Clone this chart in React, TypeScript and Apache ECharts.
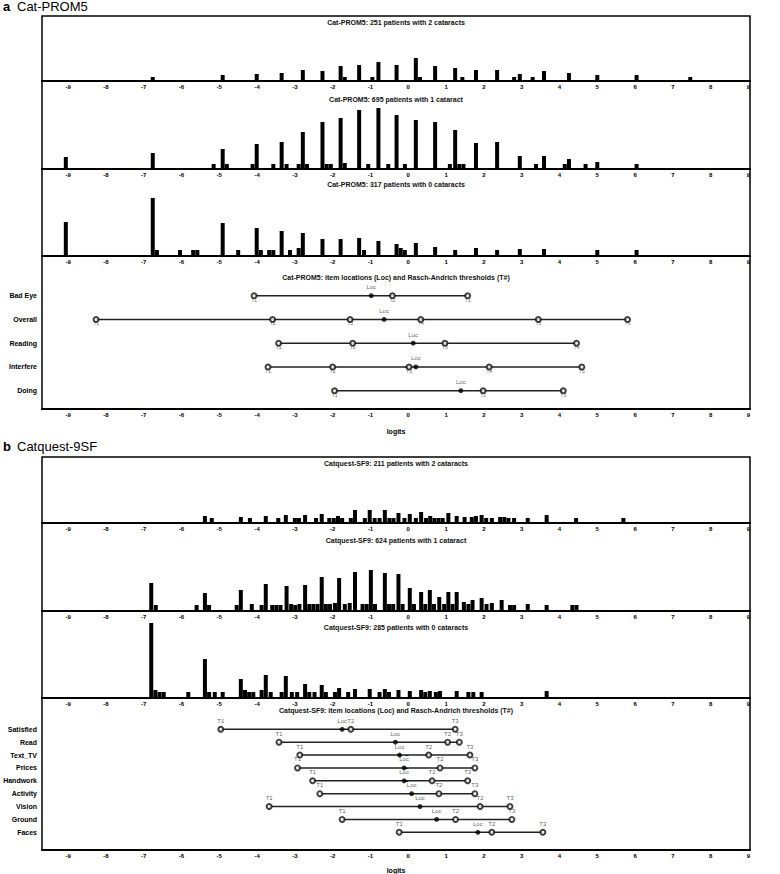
import React, { useEffect, useRef } from 'react';
import * as echarts from 'echarts';

// ---------- data ----------
const xTicks = [-9, -8, -7, -6, -5, -4, -3, -2, -1, 0, 1, 2, 3, 4, 5, 6, 7, 8, 9];

// Cat-PROM5 person distributions [logit, count]
const promTwo = [[-6.76,4],[-4.91,6],[-4.01,7],[-3.35,8],[-2.79,11],[-2.27,10],[-1.79,15],[-1.68,4],[-1.30,16],[-0.95,4],[-0.79,19],[-0.31,16],[0.20,23],[0.31,4],[0.71,15],[1.24,13],[1.43,4],[1.79,11],[2.35,11],[2.80,4],[2.95,7],[3.29,4],[3.59,10],[4.25,8],[5.00,6],[6.04,6],[7.46,4]];
const promOne = [[-9.06,12],[-6.76,16],[-5.15,5],[-4.91,20],[-4.80,5],[-4.12,5],[-4.01,25],[-3.57,5],[-3.35,27],[-3.22,5],[-2.90,5],[-2.79,37],[-2.68,5],[-2.27,47],[-2.16,5],[-2.05,5],[-1.79,51],[-1.68,6],[-1.30,59],[-1.06,5],[-0.79,61],[-0.53,5],[-0.31,54],[-0.09,5],[0.20,49],[0.71,47],[1.10,5],[1.24,39],[1.35,5],[1.46,5],[1.79,26],[2.35,27],[2.95,13],[3.38,5],[3.59,13],[4.14,5],[4.25,10],[4.69,5],[5.00,7],[6.04,5]];
const promZero = [[-9.06,34],[-6.76,58],[-6.65,6],[-6.04,6],[-5.69,6],[-5.58,6],[-4.91,33],[-4.50,6],[-4.01,28],[-3.90,6],[-3.68,6],[-3.57,6],[-3.35,25],[-3.13,6],[-2.90,8],[-2.79,23],[-2.27,17],[-1.79,17],[-1.30,18],[-1.17,6],[-0.79,15],[-0.31,12],[-0.20,8],[-0.09,6],[0.20,13],[0.71,9],[1.24,6],[1.79,8],[2.35,6],[2.95,7],[3.59,7],[5.00,6],[6.04,6]];

// Catquest-SF9 person distributions [logit, count]
const sf9Two = [[-5.38,7],[-5.20,5],[-4.43,6],[-4.19,5],[-3.77,7],[-3.44,5],[-3.24,8],[-3.00,5],[-2.89,5],[-2.73,8],[-2.44,5],[-2.29,9],[-2.09,5],[-1.97,5],[-1.86,7],[-1.75,5],[-1.52,5],[-1.41,13],[-1.15,5],[-1.02,13],[-0.89,5],[-0.76,5],[-0.62,13],[-0.50,5],[-0.39,5],[-0.26,10],[-0.10,5],[0.04,9],[0.20,5],[0.34,11],[0.47,5],[0.58,7],[0.69,5],[0.80,5],[0.91,5],[1.06,10],[1.28,7],[1.49,6],[1.68,6],[1.79,7],[1.94,8],[2.06,5],[2.21,5],[2.43,6],[2.54,6],[2.65,5],[2.80,5],[3.16,5],[3.66,8],[4.44,5],[5.69,5]];
const sf9One = [[-6.80,28],[-6.68,6],[-5.60,6],[-5.38,18],[-5.27,6],[-4.54,6],[-4.43,21],[-4.14,7],[-3.88,6],[-3.77,27],[-3.60,6],[-3.49,6],[-3.38,6],[-3.22,25],[-3.10,7],[-2.99,6],[-2.88,7],[-2.73,26],[-2.62,7],[-2.51,7],[-2.40,7],[-2.29,34],[-2.18,7],[-2.07,7],[-1.94,8],[-1.83,33],[-1.68,7],[-1.55,8],[-1.41,39],[-1.21,7],[-1.10,7],[-0.99,41],[-0.88,7],[-0.62,38],[-0.51,7],[-0.40,7],[-0.26,37],[-0.15,7],[0.04,23],[0.15,7],[0.34,19],[0.45,7],[0.57,21],[0.68,7],[0.82,14],[0.95,7],[1.06,19],[1.17,7],[1.28,19],[1.47,9],[1.59,7],[1.70,11],[1.94,13],[2.07,7],[2.21,8],[2.47,11],[2.69,6],[2.80,6],[3.16,7],[3.66,6],[4.34,6],[4.45,6]];
const sf9Zero = [[-6.80,75],[-6.69,8],[-6.58,6],[-6.47,6],[-5.82,6],[-5.38,39],[-5.27,6],[-5.12,6],[-4.91,6],[-4.43,19],[-4.32,8],[-4.21,6],[-4.10,6],[-3.88,8],[-3.77,23],[-3.64,6],[-3.35,6],[-3.24,22],[-3.08,6],[-2.94,6],[-2.73,14],[-2.62,6],[-2.48,6],[-2.29,13],[-2.18,6],[-1.94,6],[-1.83,10],[-1.59,6],[-1.41,9],[-1.02,9],[-0.76,6],[-0.62,9],[-0.51,6],[-0.26,8],[0.04,7],[0.34,8],[0.45,6],[0.57,7],[0.73,6],[0.84,7],[1.28,7],[1.59,6],[1.72,6],[1.94,6],[3.66,7]];

// Item maps
const promItems = ['Bad Eye', 'Overall', 'Reading', 'Interfere', 'Doing'];
const promLoc = [-0.98, -0.64, 0.13, 0.20, 1.39];
const promThresholds = [
  [-4.08, -0.42, 1.57],
  [-8.26, -3.59, -1.54, 0.33, 3.44, 5.80],
  [-3.43, -1.47, 0.97, 4.45],
  [-3.71, -2.00, 0.02, 2.14, 4.59],
  [-1.95, 1.98, 4.10],
];
const sf9Items = ['Satisfied', 'Read', 'Text_TV', 'Prices', 'Handwork', 'Activity', 'Vision', 'Ground', 'Faces'];
const sf9Loc = [-1.75, -0.34, -0.23, -0.11, -0.11, 0.09, 0.31, 0.75, 1.84];
const sf9Thresholds = [
  [-4.96, -1.52, 1.24],
  [-3.42, 1.04, 1.35],
  [-2.87, 0.54, 1.63],
  [-2.93, 0.84, 1.76],
  [-2.53, 0.63, 1.57],
  [-2.34, 0.81, 1.76],
  [-3.68, 1.90, 2.69],
  [-1.75, 1.25, 2.74],
  [-0.24, 2.21, 3.56],
];

const histTitles = [
  'Cat-PROM5: 251 patients with 2 cataracts',
  'Cat-PROM5: 695 patients with 1 cataract',
  'Cat-PROM5: 317 patients with 0 cataracts',
  'Cat-PROM5: item locations (Loc) and Rasch-Andrich thresholds (T#)',
  'Catquest-SF9: 211 patients with 2 cataracts',
  'Catquest-SF9: 624 patients with 1 cataract',
  'Catquest-SF9: 285 patients with 0 cataracts',
  'Catquest-SF9: item locations (Loc) and Rasch-Andrich thresholds (T#)',
];

// ---------- layout ----------
const FONT = 'Liberation Sans, Arial, sans-serif';
const X_MIN = -9.69;
const X_MAX = 9.04;
const grids = [
  { top: 16, height: 65 },
  { top: 81, height: 88 },
  { top: 169, height: 87 },
  { top: 256, height: 153 },
  { top: 457, height: 66 },
  { top: 523, height: 88 },
  { top: 611, height: 87 },
  { top: 698, height: 152 },
];
const titleY = [23, 100, 185, 277.5, 464, 540.5, 628, 710.5];

function buildOption() {
  const histData = [promTwo, promOne, promZero, null, sf9Two, sf9One, sf9Zero, null];

  const grid = grids.map((g) => ({
    left: 42,
    right: 30,
    top: g.top,
    height: g.height,
    show: true,
    borderColor: '#000',
    borderWidth: 1.5,
    backgroundColor: 'transparent',
    containLabel: false,
    outerBoundsMode: 'none',
  }));

  const xAxis = grids.map((g, i) => ({
    type: 'value',
    gridIndex: i,
    min: X_MIN,
    max: X_MAX,
    axisLine: { show: true, onZero: false, lineStyle: { color: '#000', width: 2 } },
    axisTick: { show: false },
    splitLine: { show: false },
    axisLabel: {
      customValues: xTicks,
      fontSize: 6,
      fontWeight: 'bold',
      color: '#000',
      margin: 3,
      fontFamily: FONT,
      formatter: (v: number) => String(v),
    },
    name: i === 3 || i === 7 ? 'logits' : '',
    nameLocation: 'middle',
    nameGap: i === 3 ? 19 : 17,
    nameTextStyle: { fontSize: 7, fontWeight: 'bold', color: '#000', fontFamily: FONT },
  }));

  const itemYAxis = (idx: number, names: string[], min: number, max: number) => ({
    type: 'value',
    gridIndex: idx,
    min,
    max,
    inverse: true,
    axisLine: { show: false },
    splitLine: { show: false },
    axisTick: {
      show: true,
      customValues: names.map((_, k) => k),
      length: 3,
      lineStyle: { color: '#000', width: 1 },
    },
    axisLabel: {
      customValues: names.map((_, k) => k),
      formatter: (v: number) => names[Math.round(v)] || '',
      fontSize: 7,
      fontWeight: 'bold',
      color: '#000',
      margin: 5,
      fontFamily: FONT,
    },
  });

  const yAxis = grids.map((g, i) => {
    if (i === 3) return itemYAxis(3, promItems, -1.672, 4.771);
    if (i === 7) return itemYAxis(7, sf9Items, -2.431, 9.375);
    return { type: 'value', gridIndex: i, min: 0, max: g.height, show: false };
  });

  const series: any[] = [];
  histData.forEach((d, i) => {
    if (!d) return;
    series.push({
      type: 'bar',
      xAxisIndex: i,
      yAxisIndex: i,
      data: d,
      barWidth: 4,
      itemStyle: { color: '#000' },
      silent: true,
    });
  });

  const itemMap = (
    idx: number,
    thresholds: number[][],
    locs: number[],
    tLabelPos: string,
    tDist: number,
    tFont: number,
    symSize: number,
    borderW: number
  ) => {
    thresholds.forEach((ts, k) => {
      const all = ts.concat([locs[k]]);
      series.push({
        type: 'line',
        xAxisIndex: idx,
        yAxisIndex: idx,
        data: [[Math.min(...all), k], [Math.max(...all), k]],
        symbol: 'none',
        lineStyle: { color: '#222', width: 1.5 },
        silent: true,
        z: 2,
      });
    });
    series.push({
      type: 'scatter',
      xAxisIndex: idx,
      yAxisIndex: idx,
      data: thresholds.flatMap((ts, k) => ts.map((t, j) => [t, k, 'T' + (j + 1)])),
      symbol: 'emptyCircle',
      symbolSize: symSize,
      itemStyle: { color: '#111', borderWidth: borderW },
      label: {
        show: true,
        position: tLabelPos,
        distance: tDist,
        fontSize: tFont,
        color: '#333',
        fontFamily: FONT,
        formatter: (p: any) => p.data[2],
      },
      silent: true,
      z: 3,
    });
    series.push({
      type: 'scatter',
      xAxisIndex: idx,
      yAxisIndex: idx,
      data: locs.map((l, k) => [l, k]),
      symbol: 'circle',
      symbolSize: 5,
      itemStyle: { color: '#000' },
      label: {
        show: true,
        position: 'top',
        distance: 3,
        fontSize: 6,
        color: '#333',
        fontFamily: FONT,
        formatter: () => 'Loc',
      },
      silent: true,
      z: 4,
    });
  };
  itemMap(3, promThresholds, promLoc, 'bottom', -2, 5, 5, 1);
  itemMap(7, sf9Thresholds, sf9Loc, 'top', 2, 6, 5, 1.5);

  const title: any[] = [
    { text: 'a', left: 3, top: 0, padding: 0, textStyle: { fontSize: 13, fontWeight: 'bold', color: '#000', fontFamily: FONT } },
    { text: 'Cat-PROM5', left: 17, top: 0, padding: 0, textStyle: { fontSize: 13, fontWeight: 'normal', color: '#000', fontFamily: FONT } },
    { text: 'b', left: 3, top: 440, padding: 0, textStyle: { fontSize: 13, fontWeight: 'bold', color: '#000', fontFamily: FONT } },
    { text: 'Catquest-9SF', left: 17, top: 440, padding: 0, textStyle: { fontSize: 13, fontWeight: 'normal', color: '#000', fontFamily: FONT } },
  ];
  histTitles.forEach((t, i) => {
    title.push({
      text: t,
      left: 396,
      top: titleY[i] - 4,
      padding: 0,
      textAlign: 'center',
      textStyle: { fontSize: 7, fontWeight: 'bold', color: '#111', fontFamily: FONT },
    });
  });

  return {
    animation: false,
    backgroundColor: '#fff',
    textStyle: { fontFamily: FONT },
    title,
    grid,
    xAxis,
    yAxis,
    series,
  };
}

export default function App() {
  const ref = useRef<HTMLDivElement>(null);
  useEffect(() => {
    const chart = echarts.init(ref.current as HTMLDivElement, null, { renderer: 'svg' });
    chart.setOption(buildOption() as any);
    return () => chart.dispose();
  }, []);
  return (
    <div
      ref={ref}
      style={{ position: 'absolute', left: 0, top: 0, width: 780, height: 874, background: '#fff' }}
    />
  );
}
